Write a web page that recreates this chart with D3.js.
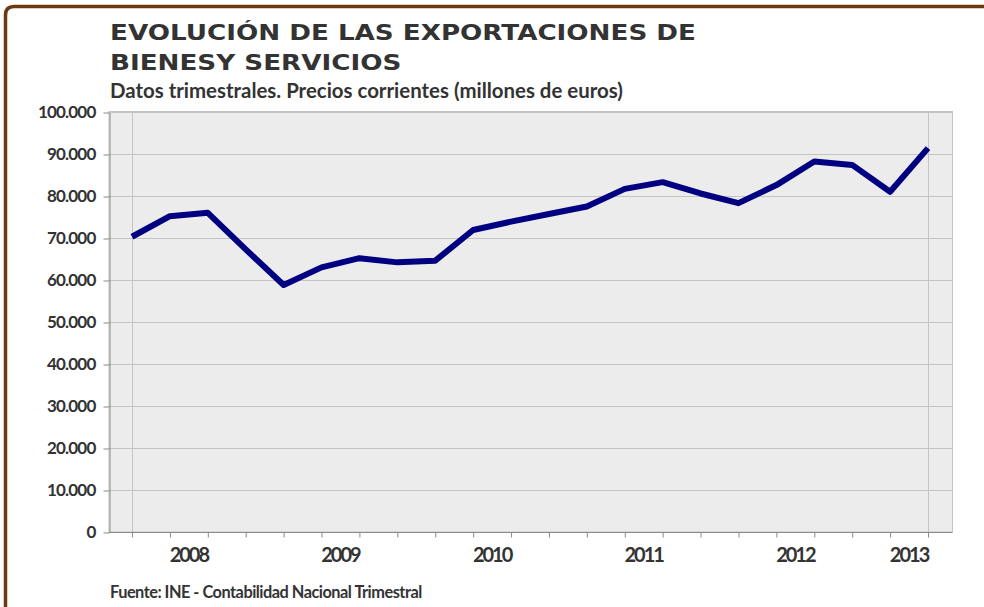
<!DOCTYPE html>
<html>
<head>
<meta charset="utf-8">
<script src="https://cdn.jsdelivr.net/npm/d3@7"></script>
<style>
  body { margin: 0; background: #fff; }
  svg { display: block; }
  text { font-family: Lato, 'DejaVu Sans', sans-serif; fill: #333; }
</style>
</head>
<body>
<svg id="chart" width="984" height="607"></svg>
<script>
// quarters 2008 Q1 .. 2013 Q2 (millones de euros)
let quarters = ['2008T1', '2008T2', '2008T3', '2008T4', '2009T1', '2009T2', '2009T3', '2009T4',
  '2010T1', '2010T2', '2010T3', '2010T4', '2011T1', '2011T2', '2011T3', '2011T4',
  '2012T1', '2012T2', '2012T3', '2012T4', '2013T1', '2013T2']
let exports = [70300, 75200, 76000, 67300, 58800, 63000, 65200, 64200,
  64600, 71900, 73900, 75700, 77500, 81700, 83300, 80600,
  78300, 82600, 88200, 87400, 81000, 91400]
let years = ['2008', '2009', '2010', '2011', '2012', '2013']
let yTicks = [0, 10000, 20000, 30000, 40000, 50000, 60000, 70000, 80000, 90000, 100000]

let svg = d3.select('#chart')
let plot = { left: 109, right: 952.5, top: 111.5, bottom: 532 }

let es = d3.formatLocale({ decimal: ',', thousands: '.', grouping: [3], currency: ['', ' €'] })
let fmt = es.format(',d')

// frame
svg.append('path')
  .attr('d', 'M5.5,620 L5.5,15 Q5.5,6.5 14,6.5 L990,6.5')
  .attr('fill', 'none')
  .attr('stroke', '#6b3a0e')
  .attr('stroke-width', 3.5)

// titles
function fitText (sel, w) {
  let len = sel.node().getComputedTextLength()
  let fs = parseFloat(sel.attr('font-size'))
  sel.attr('font-size', fs * w / len)
}
let titleFont = "'DejaVu Sans', sans-serif"
let t1 = svg.append('text').attr('x', 110).attr('y', 40).attr('font-size', 21)
  .style('font-family', titleFont).attr('font-weight', 700)
  .text('EVOLUCIÓN DE LAS EXPORTACIONES DE')
let stretch = 586 / t1.node().getComputedTextLength()
t1.attr('textLength', 586).attr('lengthAdjust', 'spacingAndGlyphs')
let t2 = svg.append('text').attr('x', 110).attr('y', 70).attr('font-size', 21)
  .style('font-family', titleFont).attr('font-weight', 700)
  .text('BIENESY SERVICIOS')
t2.attr('textLength', t2.node().getComputedTextLength() * stretch).attr('lengthAdjust', 'spacingAndGlyphs')
let t3 = svg.append('text').attr('x', 110).attr('y', 98).attr('font-size', 19)
  .attr('font-weight', 700).text('Datos trimestrales. Precios corrientes (millones de euros)')
fitText(t3, 513)

// scales
let x = d3.scalePoint().domain(quarters).range([132, 928])
let y = d3.scaleLinear().domain([0, 100000]).range([plot.bottom, 112])

// plot background
svg.append('rect')
  .attr('x', plot.left).attr('y', plot.top)
  .attr('width', plot.right - plot.left).attr('height', plot.bottom - plot.top)
  .attr('fill', '#ececec')
  .attr('stroke', '#c4c4c4')

// horizontal grid
svg.append('g').selectAll('line')
  .data(yTicks.slice(1))
  .enter().append('line')
  .attr('x1', plot.left).attr('x2', plot.right)
  .attr('y1', d => Math.round(y(d)) + 0.5).attr('y2', d => Math.round(y(d)) + 0.5)
  .attr('stroke', '#c4c4c4')

// vertical grid at first and last quarter
svg.append('g').selectAll('line')
  .data([quarters[0], quarters[quarters.length - 1]])
  .enter().append('line')
  .attr('x1', d => Math.round(x(d)) + 0.5).attr('x2', d => Math.round(x(d)) + 0.5)
  .attr('y1', plot.top).attr('y2', plot.bottom)
  .attr('stroke', '#c4c4c4')

// y axis
let yAxis = d3.axisLeft(y).tickValues(yTicks).tickSize(6).tickSizeOuter(0).tickFormat(fmt)
let gy = svg.append('g').attr('transform', 'translate(' + (plot.left + 0.5) + ',0.5)').call(yAxis)
gy.select('.domain').attr('stroke', '#8a8a8a')
gy.selectAll('.tick line').attr('stroke', '#8a8a8a')
gy.selectAll('.tick text')
  .attr('x', -14)
  .attr('font-size', 17)
  .attr('font-weight', 700)
  .attr('fill', '#333')
  .attr('letter-spacing', -0.8)

// x axis
let xAxis = d3.axisBottom(x).tickSize(5).tickSizeOuter(0).tickFormat('')
let gx = svg.append('g').attr('transform', 'translate(0,' + (plot.bottom + 0.5) + ')').call(xAxis)
gx.select('.domain').attr('d', 'M' + plot.left + ',0H' + plot.right).attr('stroke', '#8a8a8a')
gx.selectAll('.tick line').attr('stroke', '#8a8a8a')

// year labels centred on the quarters of each year
svg.append('g').selectAll('text')
  .data(years)
  .enter().append('text')
  .attr('x', yr => {
    let qs = quarters.filter(q => q.startsWith(yr))
    return d3.mean(qs, q => x(q))
  })
  .attr('y', 561.5)
  .attr('text-anchor', 'middle')
  .attr('font-size', 20)
  .attr('font-weight', 700)
  .attr('letter-spacing', -2)
  .text(d => d)

// line
let line = d3.line()
  .x((d, i) => x(quarters[i]))
  .y(d => y(d))
svg.append('path')
  .datum(exports)
  .attr('d', line)
  .attr('fill', 'none')
  .attr('stroke', '#000080')
  .attr('stroke-width', 6)
  .attr('stroke-linejoin', 'round')

// source
let src = svg.append('text').attr('x', 110).attr('y', 598).attr('font-size', 14)
  .attr('font-weight', 700).attr('letter-spacing', -0.5)
  .text('Fuente: INE - Contabilidad Nacional Trimestral')
fitText(src, 308)
</script>
</body>
</html>
